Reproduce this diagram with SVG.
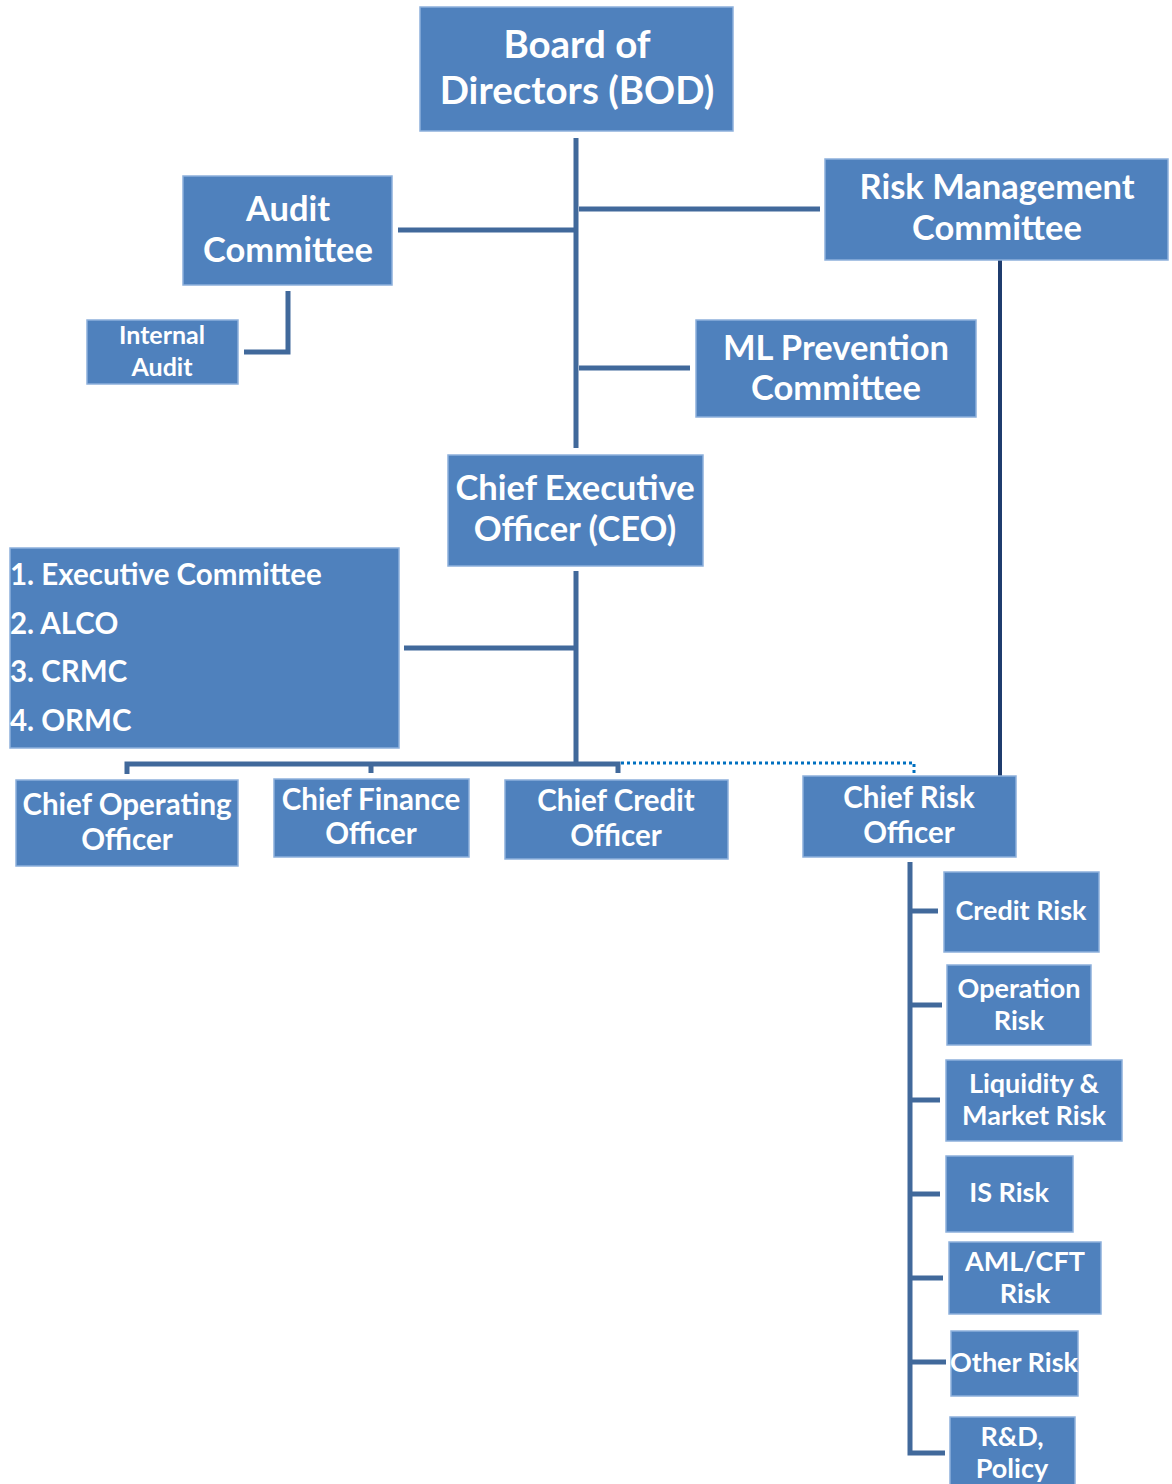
<svg xmlns="http://www.w3.org/2000/svg" width="1172" height="1484" viewBox="0 0 1172 1484">
<style>
.box{fill:#4F81BD;stroke:#8DB0DC;stroke-width:1.5}
.t{font-family:Lato,"Open Sans","Liberation Sans",sans-serif;font-weight:bold;fill:#FFFFFF;text-anchor:middle}
.l{text-anchor:start}
.c{fill:none;stroke:#41699B;stroke-width:5}
.nav{fill:none;stroke:#1F3C6E;stroke-width:4}
.dot{fill:none;stroke:#0070C0;stroke-width:3;stroke-dasharray:3 3}
.f38{font-size:38.5px}.f34{font-size:34.5px}.f30{font-size:29.5px}.f27{font-size:27px}.f25{font-size:25px}
</style>
<rect width="1172" height="1484" fill="#FFFFFF"/>
<g id="connectors">
<path class="c" d="M576 138V448"/>
<path class="c" d="M579 209H820"/>
<path class="c" d="M398 230H576"/>
<path class="c" d="M288 291V352H244"/>
<path class="c" d="M579 368H690"/>
<path class="c" d="M576 571V765"/>
<path class="c" d="M404 648H576"/>
<path class="c" d="M127 774V764H618V773"/>
<path class="c" d="M371 764V773"/>
<path class="nav" d="M1000 258V776"/>
<path class="dot" d="M621 763H914V774"/>
<path class="c" d="M910 862V1453H945"/>
<path class="c" d="M910 911H938"/>
<path class="c" d="M910 1005H942"/>
<path class="c" d="M910 1100H940"/>
<path class="c" d="M910 1194H940"/>
<path class="c" d="M910 1278H943"/>
<path class="c" d="M910 1362H946"/>
</g>
<g id="bod"><rect class="box" x="420" y="7" width="313" height="124"/><text class="t f38" x="577" y="58">Board of</text><text class="t f38" x="577" y="104">Directors (BOD)</text></g>
<g id="rmc"><rect class="box" x="825" y="159" width="343" height="101"/><text class="t f34" x="997" y="199">Risk Management</text><text class="t f34" x="997" y="240">Committee</text></g>
<g id="audit"><rect class="box" x="183" y="176" width="209" height="109"/><text class="t f34" x="288" y="221">Audit</text><text class="t f34" x="288" y="262">Committee</text></g>
<g id="internal-audit"><rect class="box" x="87" y="320" width="151" height="64"/><text class="t f25" x="162" y="344">Internal</text><text class="t f25" x="162" y="376">Audit</text></g>
<g id="ml"><rect class="box" x="696" y="320" width="280" height="97"/><text class="t f34" x="836" y="360">ML Prevention</text><text class="t f34" x="836" y="400">Committee</text></g>
<g id="ceo"><rect class="box" x="448" y="455" width="255" height="111"/><text class="t f34" x="575" y="500">Chief Executive</text><text class="t f34" x="575" y="541">Officer (CEO)</text></g>
<g id="committees"><rect class="box" x="10" y="548" width="389" height="200"/><text class="t l f30" x="10" y="585">1. Executive Committee</text><text class="t l f30" x="10" y="634">2. ALCO</text><text class="t l f30" x="10" y="682">3. CRMC</text><text class="t l f30" x="10" y="731">4. ORMC</text></g>
<g id="coo"><rect class="box" x="16" y="780" width="222" height="86"/><text class="t f30" x="127" y="815">Chief Operating</text><text class="t f30" x="127" y="850">Officer</text></g>
<g id="cfo"><rect class="box" x="274" y="779" width="195" height="78"/><text class="t f30" x="371" y="810">Chief Finance</text><text class="t f30" x="371" y="844">Officer</text></g>
<g id="cco"><rect class="box" x="505" y="780" width="223" height="79"/><text class="t f30" x="616" y="811">Chief Credit</text><text class="t f30" x="616" y="846">Officer</text></g>
<g id="cro"><rect class="box" x="803" y="776" width="213" height="81"/><text class="t f30" x="909" y="808">Chief Risk</text><text class="t f30" x="909" y="843">Officer</text></g>
<g id="credit-risk"><rect class="box" x="944" y="872" width="155" height="80"/><text class="t f27" x="1021" y="920">Credit Risk</text></g>
<g id="operation-risk"><rect class="box" x="947" y="965" width="144" height="80"/><text class="t f27" x="1019" y="998">Operation</text><text class="t f27" x="1019" y="1030">Risk</text></g>
<g id="liquidity-risk"><rect class="box" x="946" y="1060" width="176" height="81"/><text class="t f27" x="1034" y="1093">Liquidity &amp;</text><text class="t f27" x="1034" y="1125">Market Risk</text></g>
<g id="is-risk"><rect class="box" x="946" y="1156" width="127" height="76"/><text class="t f27" x="1009" y="1202">IS Risk</text></g>
<g id="aml-risk"><rect class="box" x="949" y="1242" width="152" height="72"/><text class="t f27" x="1025" y="1271">AML/CFT</text><text class="t f27" x="1025" y="1303">Risk</text></g>
<g id="other-risk"><rect class="box" x="951" y="1331" width="127" height="65"/><text class="t f27" x="1014" y="1372">Other Risk</text></g>
<g id="rd-policy"><rect class="box" x="950" y="1417" width="125" height="70"/><text class="t f27" x="1012" y="1446">R&amp;D,</text><text class="t f27" x="1012" y="1478">Policy</text></g>
</svg>
